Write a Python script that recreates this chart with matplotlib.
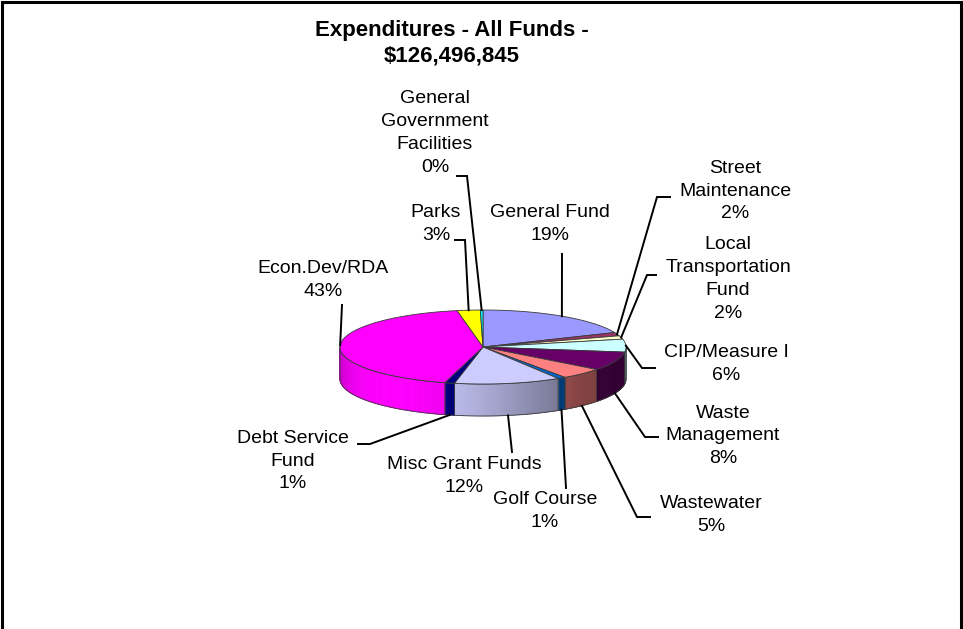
import numpy as np
import matplotlib
matplotlib.use("Agg")
import matplotlib.pyplot as plt
import matplotlib.colors as mcolors
from matplotlib.patches import Polygon

plt.rcParams['font.family'] = ['Liberation Sans', 'DejaVu Sans']

# fund shares in percent, clockwise from 12 o'clock
funds = ["General Fund", "Street\nMaintenance", "Local\nTransportation\nFund",
         "CIP/Measure I", "Waste\nManagement", "Wastewater", "Golf Course",
         "Misc Grant Funds", "Debt Service\nFund", "Econ.Dev/RDA", "Parks",
         "General\nGovernment\nFacilities"]
shares = [18.6, 1.5, 1.5, 5.6, 8.2, 4.9, 0.9, 12.0, 1.1, 42.8, 2.6, 0.3]
colors = ['#9999FF', '#993366', '#FFFFCC', '#CCFFFF', '#660066', '#FF8080',
          '#0066CC', '#CCCCFF', '#000080', '#FF00FF', '#FFFF00', '#00FFFF']

# label block centres and leader elbows (pixel space)
label_pos = [(550, 224), (735, 191), (728, 279), (726, 364), (723, 436),
             (711, 515), (545, 511), (464, 476), (293, 461), (323, 280),
             (436, 224), (435, 133)]
leaders = [[(562, 254)],
           [(657, 197), (670, 197)],
           [(647, 275), (656, 275)],
           [(642, 368), (655, 368)],
           [(645, 437), (658, 437)],
           [(637, 517), (650, 517)],
           [(566, 488)],
           [(512, 452)],
           [(370, 444), (358, 444)],
           [(342, 305)],
           [(465, 240), (455, 240)],
           [(467, 176), (457, 176)]]

title = "Expenditures - All Funds -\n$126,496,845"

cx, cy = 483, 347
rx, ry = 143, 37
depth = 32


def rim(t, drop=0.0):
    t = np.radians(t)
    return cx + rx * np.cos(t), cy - ry * np.sin(t) + drop


def shade(t):
    # light coming from the front-left
    k = max(0.0, np.cos(np.radians(t + 130))) ** 1.5
    return 0.5 + 0.5 * k


fig = plt.figure(figsize=(9.63, 6.29), dpi=100)
ax = fig.add_axes([0, 0, 1, 1])
ax.set_xlim(0, 963)
ax.set_ylim(629, 0)
ax.axis('off')

# frame round the chart area
ax.plot([2, 2, 961, 961], [640, 2, 2, 640], color='black', lw=2.2,
        solid_joinstyle='miter', clip_on=False)

total = sum(shares)
edges = 90 - 360 * np.concatenate([[0], np.cumsum(shares)]) / total
edge_col = '#3a3a3a'

# side walls of the front half
for i, c in enumerate(colors):
    t0, t1 = edges[i], edges[i + 1]
    hi, lo = min(t0, 0), max(t1, -180)
    if lo >= hi:
        continue
    base = np.array(mcolors.to_rgb(c))
    steps = np.linspace(hi, lo, max(2, int((hi - lo) / 1.0) + 2))
    for a, b in zip(steps[:-1], steps[1:]):
        col = np.clip(base * shade((a + b) / 2), 0, 1)
        xa, ya = rim(a)
        xb, yb = rim(b)
        ax.add_patch(Polygon([(xa, ya), (xb, yb), (xb, yb + depth), (xa, ya + depth)],
                             closed=True, facecolor=col, edgecolor=col, lw=0.6))
    ts = np.linspace(hi, lo, 60)
    top = [rim(t) for t in ts]
    bot = [rim(t, depth) for t in ts[::-1]]
    ax.add_patch(Polygon(top + bot, closed=True, fill=False, edgecolor=edge_col, lw=0.6))

# top faces
for i, c in enumerate(colors):
    t0, t1 = edges[i], edges[i + 1]
    ts = np.linspace(t0, t1, max(3, int(abs(t0 - t1)) + 2))
    pts = [(cx, cy)] + [rim(t) for t in ts]
    ax.add_patch(Polygon(pts, closed=True, facecolor=c, edgecolor=edge_col, lw=0.6))

# labels with leader lines
for i, name in enumerate(funds):
    mid = (edges[i] + edges[i + 1]) / 2
    lx, ly = label_pos[i]
    front = np.sin(np.radians(mid)) < 0 and ly > cy + ry
    px, py = rim(mid, depth if front else 0)
    pts = [(px, py)] + leaders[i]
    ax.plot([p[0] for p in pts], [p[1] for p in pts], color='black', lw=1.4,
            solid_joinstyle='miter')
    ax.text(lx, ly, f"{name}\n{shares[i]:.0f}%", ha='center', va='center',
            fontsize=14, linespacing=1.45)

ax.text(452, 43, title, ha='center', va='center', fontsize=16,
        fontweight='bold', linespacing=1.27)

fig.savefig("out.png", dpi=100)
